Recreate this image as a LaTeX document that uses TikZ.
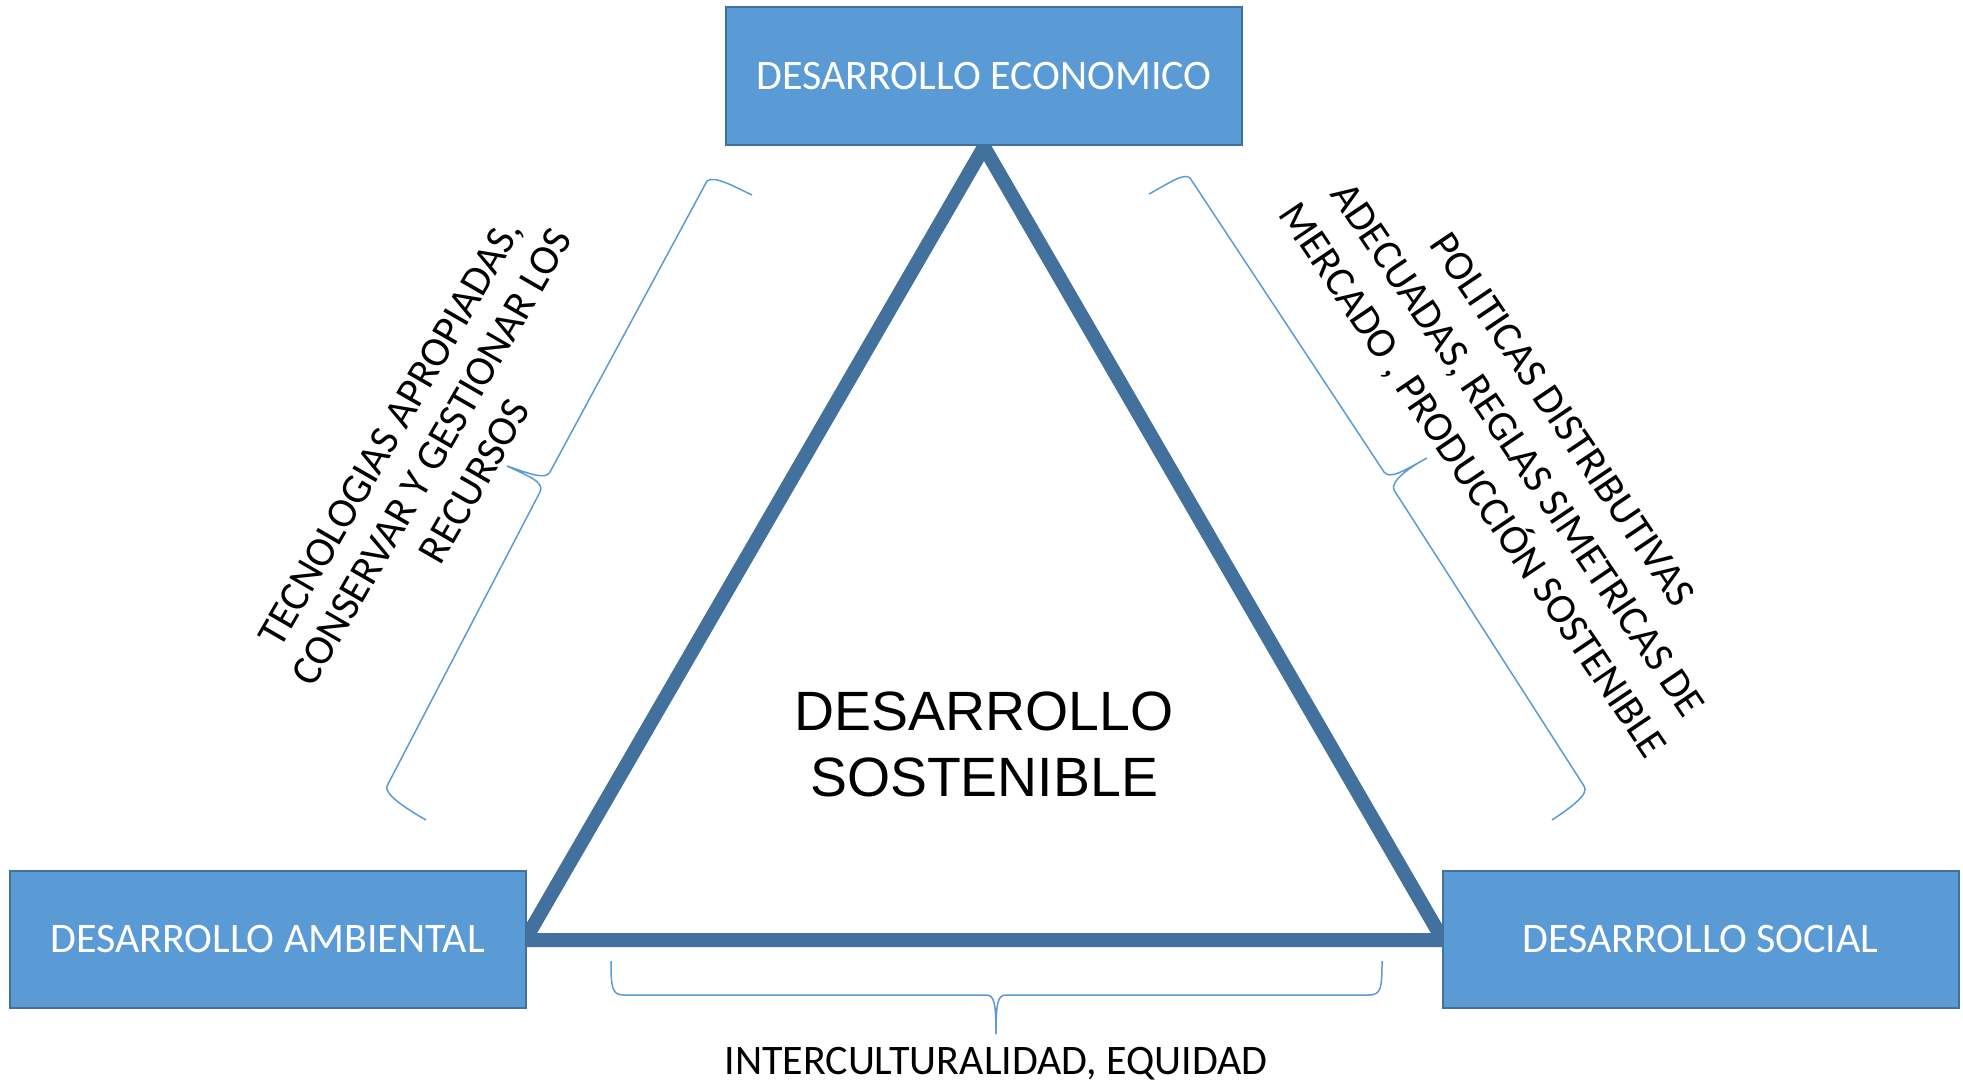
\documentclass[tikz,border=0pt]{standalone}
\usepackage{fontspec}
\setmainfont{Carlito}
\newfontfamily\centrefont{Liberation Sans}
\definecolor{boxfill}{HTML}{5B9BD5}
\definecolor{boxline}{HTML}{41719C}
\definecolor{bracecol}{HTML}{5B9BD5}
\begin{document}
\begin{tikzpicture}[x=0.5pt,y=-0.5pt,
  pillar/.style={draw=boxline, line width=1pt, fill=boxfill, text=white,
    minimum width=258pt, minimum height=68.5pt, inner sep=0pt,
    font=\fontsize{21}{25}\selectfont},
  tri/.style={draw=boxline, line width=7pt, line join=miter},
  bracepath/.style={draw=bracecol, line width=0.75pt},
  label/.style={align=center, text=black, inner sep=0pt},
]
\useasboundingbox (0,0) rectangle (1963,1081);

% triangle
\coordinate (apex) at (984,147);
\coordinate (bl) at (525,940);
\coordinate (br) at (1443,940);
\draw[tri] (apex) -- (bl) -- (br) -- cycle;

% boxes
\node[pillar] (eco) at (984,76) {DESARROLLO ECONOMICO};
\node[pillar] (amb) at (267.5,939.5) {DESARROLLO AMBIENTAL};
\node[pillar] (soc) at (1700.5,939.5) {DESARROLLO SOCIAL};

% centre
\node[label, font=\centrefont\fontsize{27.7}{33}\selectfont] (centre) at (984,744)
  {DESARROLLO\\SOSTENIBLE};

% left brace
\draw[bracepath] (752,195) .. controls (735,187) and (714,175) .. (707,181)
  -- (550,472) .. controls (546,480) and (530,474) .. (507,466)
  .. controls (528,476) and (545,482) .. (540,492)
  -- (387,786) .. controls (384,794) and (405,808) .. (426,820);

% right brace
\draw[bracepath] (1149,194) .. controls (1166,185) and (1184,172) .. (1190,178)
  -- (1384,472) .. controls (1390,480) and (1405,470) .. (1427,458)
  .. controls (1408,468) and (1390,482) .. (1394,490)
  -- (1584,786) .. controls (1590,794) and (1570,808) .. (1552,820);

% bottom brace
\draw[bracepath] (611,961) .. controls (611,988) and (612,995) .. (624,995)
  -- (986,995) .. controls (994,995) and (996,1002) .. (996,1034);
\draw[bracepath] (1382,961) .. controls (1382,988) and (1381,995) .. (1369,995)
  -- (1006,995) .. controls (998,995) and (996,1002) .. (996,1034);

% labels
\node[label, rotate=60, font=\fontsize{21}{24.5}\selectfont] (tec) at (432,457)
  {TECNOLOGIAS APROPIADAS,\\CONSERVAR Y GESTIONAR LOS\\RECURSOS};
\node[label, rotate=-56, font=\fontsize{21}{27}\selectfont] (pol) at (1516,451)
  {POLITICAS DISTRIBUTIVAS\\ADECUADAS, REGLAS SIMETRICAS DE\\MERCADO , PRODUCCIÓN SOSTENIBLE};
\node[label, anchor=base, font=\fontsize{21}{25}\selectfont] (inter) at (996,1074)
  {INTERCULTURALIDAD, EQUIDAD};
\end{tikzpicture}
\end{document}
